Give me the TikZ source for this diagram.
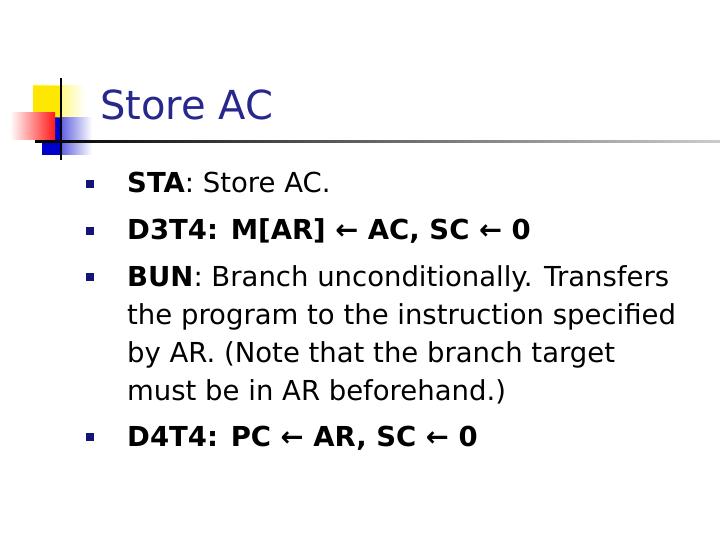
\documentclass[tikz,border=0pt]{standalone}
\usepackage{fontspec}
\setmainfont{DejaVu Sans}
\definecolor{navy}{RGB}{40,40,140}
\definecolor{bul}{RGB}{20,20,120}
\begin{document}
\begin{tikzpicture}[x=1pt,y=-1pt,
  txt/.style={anchor=base west,inner sep=0pt,font=\fontsize{27.5}{32}\selectfont},
  bullet/.style={fill=bul,minimum size=8pt,inner sep=0pt}]
\useasboundingbox[fill=white] (0,0) rectangle (720,540);
% logo
\shade[left color=yellow!90!orange,right color=white] (33,86) rectangle (85,120);
\fill[yellow!90!orange] (33,86) rectangle (62,120);
\shade[left color=blue!80!black,right color=white] (42,118) rectangle (92,155);
\fill[blue!80!black] (42,118) rectangle (62,155);
\shade[left color=white,right color=red!90] (10,113) rectangle (55,140);
\draw[line width=1.5pt] (61,78) -- (61,160);
\shade[left color=black,right color=gray!40] (35,140.2) rectangle (720,142.2);
% title
\node[txt,font=\fontsize{40}{48}\selectfont,text=navy] (title) at (100,120) {Store AC};
% bullets
\node[bullet] (b1) at (90,184) {};
\node[bullet] (b2) at (90,231) {};
\node[bullet] (b3) at (90,277) {};
\node[bullet] (b4) at (90,437) {};
\node[txt] (t1) at (127,193) {\textbf{STA}: Store AC.};
\node[txt] (t2) at (127,240) {\textbf{D3T4: M[AR] ← AC, SC ← 0}};
\node[txt] (t3) at (127,286) {\textbf{BUN}: Branch unconditionally. Transfers};
\node[txt] (t4) at (127,324) {the program to the instruction specified};
\node[txt] (t5) at (127,362) {by AR. (Note that the branch target};
\node[txt] (t6) at (127,400) {must be in AR beforehand.)};
\node[txt] (t7) at (127,446) {\textbf{D4T4: PC ← AR, SC ← 0}};
\end{tikzpicture}
\end{document}
